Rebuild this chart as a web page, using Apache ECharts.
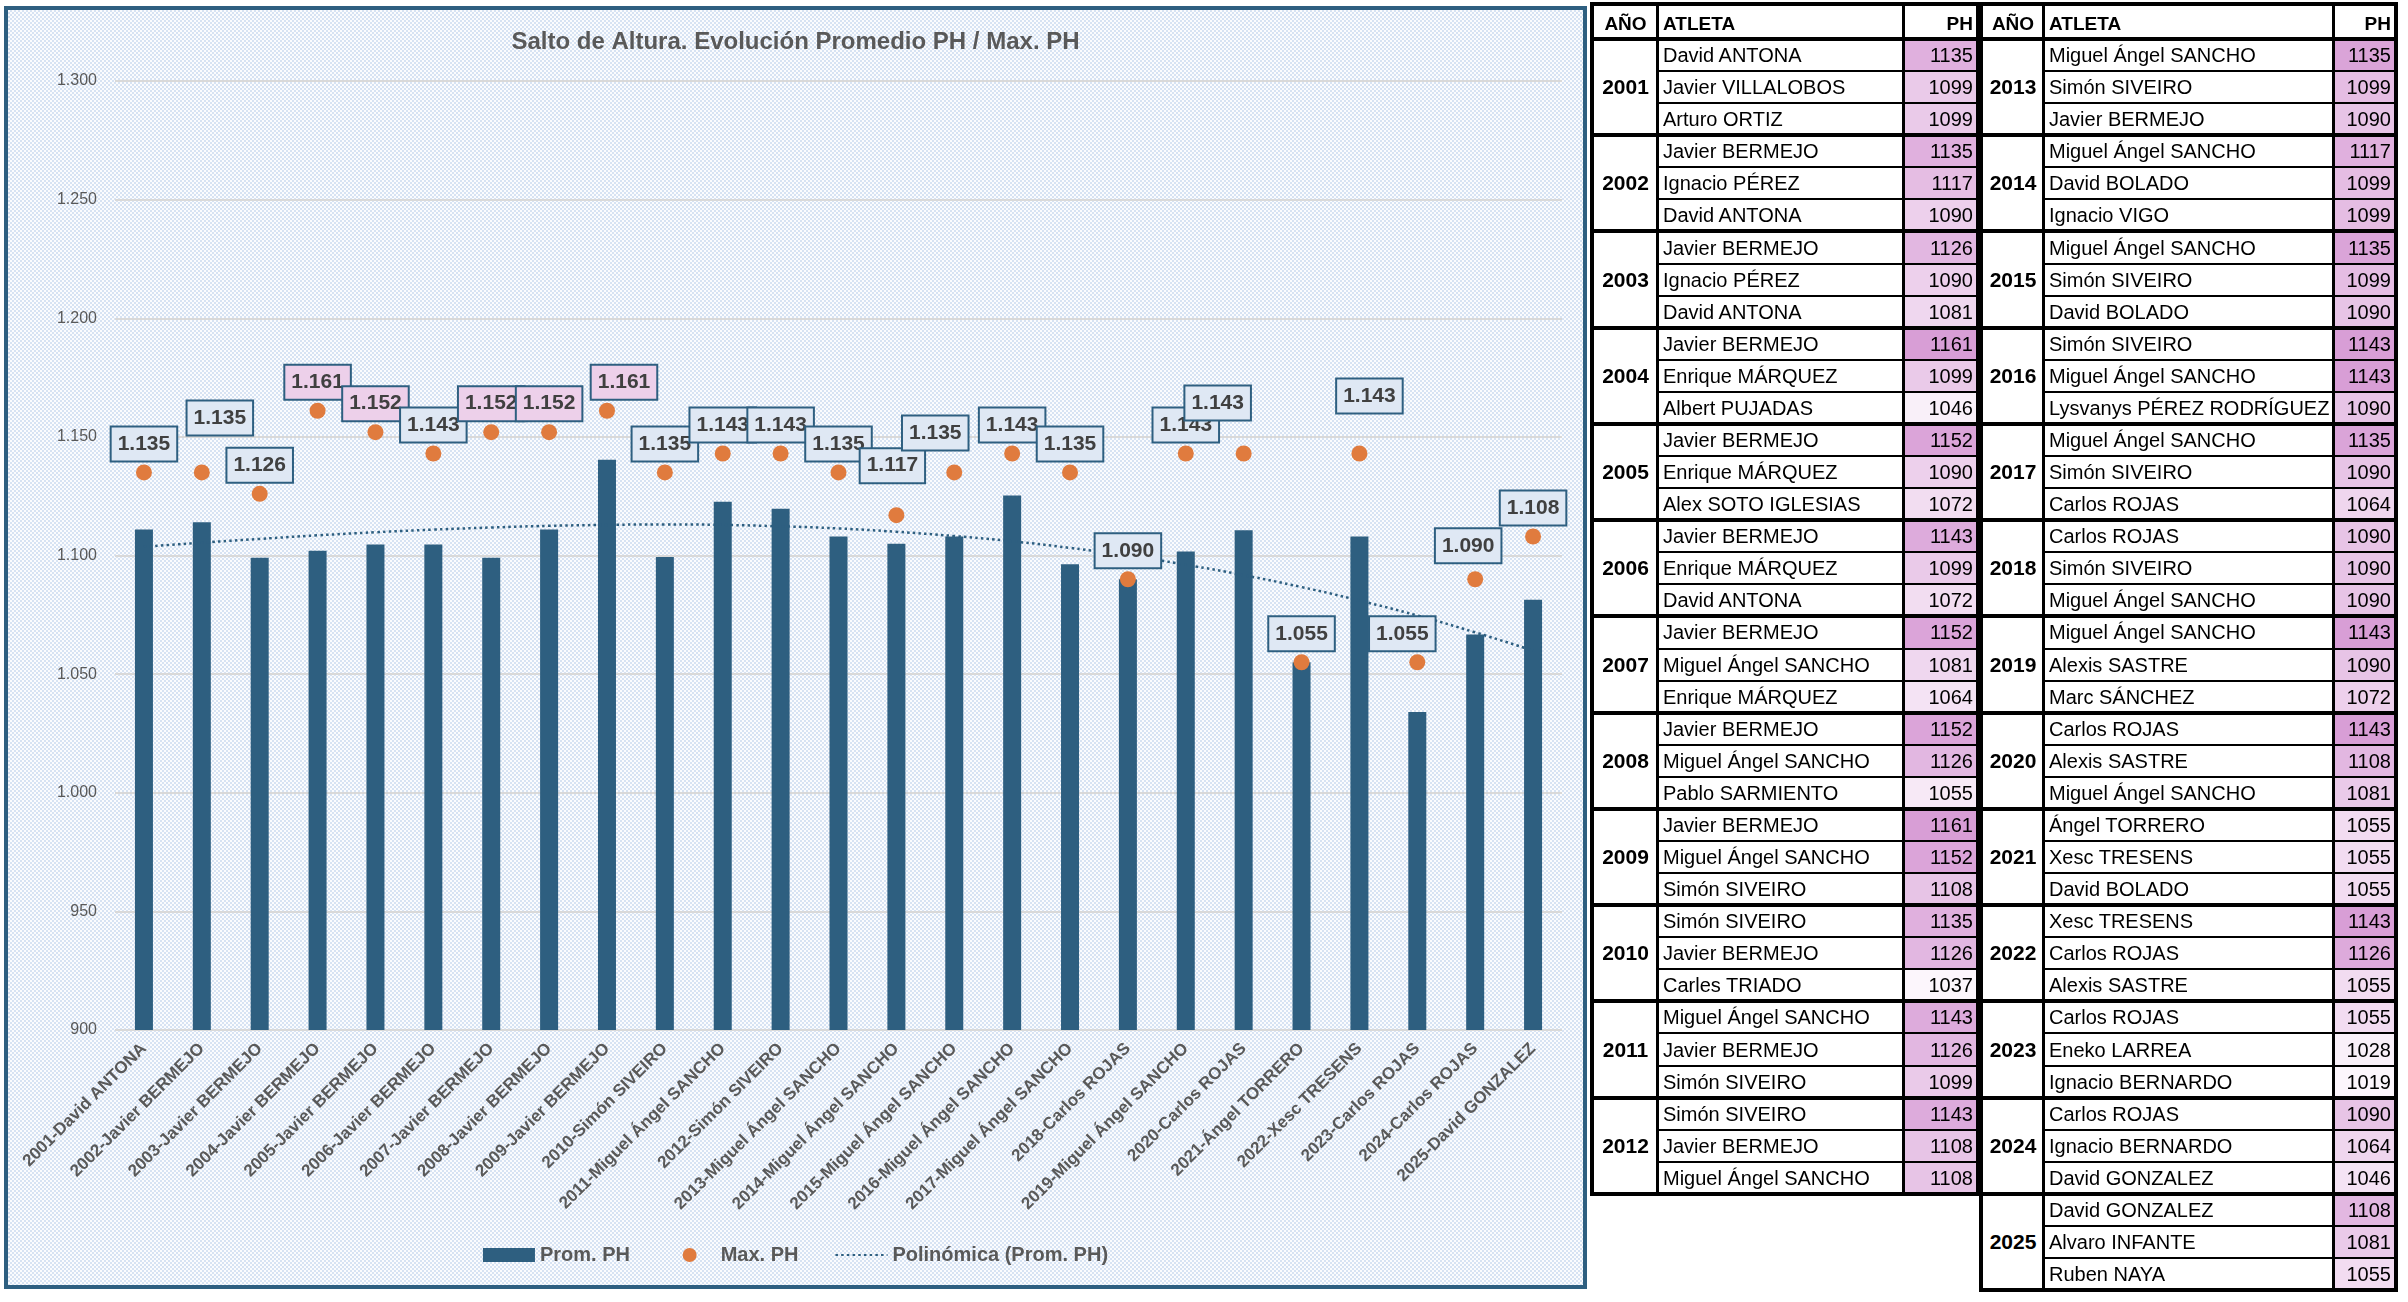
<!DOCTYPE html>
<html><head><meta charset="utf-8">
<script src="https://cdn.jsdelivr.net/npm/echarts@6/dist/echarts.min.js"></script>
<style>
html,body{margin:0;padding:0;background:#fff;}
body{width:2408px;height:1302px;position:relative;overflow:hidden;font-family:'Liberation Sans',Arial,sans-serif;}
#chart{position:absolute;left:4px;top:6px;width:1575px;height:1275px;border:4px solid #2e5f80;
background-color:#ecf1f9;
background-image:repeating-conic-gradient(#d7e3f3 0 25%, #fbfcfe 0 50%);
background-size:4px 4px;}
.t{position:absolute;white-space:nowrap;color:#000;}
.r{position:absolute;}
</style></head><body>
<div id="chart"></div>
<div id="tables"></div>
<script>
// ---------- DATA ----------
const years = [2001,2002,2003,2004,2005,2006,2007,2008,2009,2010,2011,2012,2013,2014,2015,2016,2017,2018,2019,2020,2021,2022,2023,2024,2025];
const categorias = ['2001-David ANTONA','2002-Javier BERMEJO','2003-Javier BERMEJO','2004-Javier BERMEJO','2005-Javier BERMEJO','2006-Javier BERMEJO','2007-Javier BERMEJO','2008-Javier BERMEJO','2009-Javier BERMEJO','2010-Simón SIVEIRO','2011-Miguel Ángel SANCHO','2012-Simón SIVEIRO','2013-Miguel Ángel SANCHO','2014-Miguel Ángel SANCHO','2015-Miguel Ángel SANCHO','2016-Miguel Ángel SANCHO','2017-Miguel Ángel SANCHO','2018-Carlos ROJAS','2019-Miguel Ángel SANCHO','2020-Carlos ROJAS','2021-Ángel TORRERO','2022-Xesc TRESENS','2023-Carlos ROJAS','2024-Carlos ROJAS','2025-David GONZALEZ'];
const promPH = [1111,1114,1099,1102,1104.67,1104.67,1099,1111,1140.33,1099.33,1122.67,1119.67,1108,1105,1108,1125.33,1096.33,1090,1101.67,1110.67,1055,1108,1034,1066.67,1081.33];
const maxPH = [1135,1135,1126,1161,1152,1143,1152,1152,1161,1135,1143,1143,1135,1117,1135,1143,1135,1090,1143,1143,1055,1143,1055,1090,1108];
const tendencia = [1103.7,1105.4,1107.0,1108.5,1109.8,1110.9,1111.8,1112.5,1112.9,1113.1,1112.9,1112.3,1111.4,1110.0,1108.2,1106.0,1103.2,1100.0,1096.1,1091.7,1086.7,1081.0,1074.7,1067.6,1059.9];
const yTicks = {min:900, max:1300, step:50};
const atletas = [
 ['David ANTONA','Javier VILLALOBOS','Arturo ORTIZ'],
 ['Javier BERMEJO','Ignacio PÉREZ','David ANTONA'],
 ['Javier BERMEJO','Ignacio PÉREZ','David ANTONA'],
 ['Javier BERMEJO','Enrique MÁRQUEZ','Albert PUJADAS'],
 ['Javier BERMEJO','Enrique MÁRQUEZ','Alex SOTO IGLESIAS'],
 ['Javier BERMEJO','Enrique MÁRQUEZ','David ANTONA'],
 ['Javier BERMEJO','Miguel Ángel SANCHO','Enrique MÁRQUEZ'],
 ['Javier BERMEJO','Miguel Ángel SANCHO','Pablo SARMIENTO'],
 ['Javier BERMEJO','Miguel Ángel SANCHO','Simón SIVEIRO'],
 ['Simón SIVEIRO','Javier BERMEJO','Carles TRIADO'],
 ['Miguel Ángel SANCHO','Javier BERMEJO','Simón SIVEIRO'],
 ['Simón SIVEIRO','Javier BERMEJO','Miguel Ángel SANCHO'],
 ['Miguel Ángel SANCHO','Simón SIVEIRO','Javier BERMEJO'],
 ['Miguel Ángel SANCHO','David BOLADO','Ignacio VIGO'],
 ['Miguel Ángel SANCHO','Simón SIVEIRO','David BOLADO'],
 ['Simón SIVEIRO','Miguel Ángel SANCHO','Lysvanys PÉREZ RODRÍGUEZ'],
 ['Miguel Ángel SANCHO','Simón SIVEIRO','Carlos ROJAS'],
 ['Carlos ROJAS','Simón SIVEIRO','Miguel Ángel SANCHO'],
 ['Miguel Ángel SANCHO','Alexis SASTRE','Marc SÁNCHEZ'],
 ['Carlos ROJAS','Alexis SASTRE','Miguel Ángel SANCHO'],
 ['Ángel TORRERO','Xesc TRESENS','David BOLADO'],
 ['Xesc TRESENS','Carlos ROJAS','Alexis SASTRE'],
 ['Carlos ROJAS','Eneko LARREA','Ignacio BERNARDO'],
 ['Carlos ROJAS','Ignacio BERNARDO','David GONZALEZ'],
 ['David GONZALEZ','Alvaro INFANTE','Ruben NAYA']
];
const phTabla = [
 [1135,1099,1099],[1135,1117,1090],[1126,1090,1081],[1161,1099,1046],[1152,1090,1072],
 [1143,1099,1072],[1152,1081,1064],[1152,1126,1055],[1161,1152,1108],[1135,1126,1037],
 [1143,1126,1099],[1143,1108,1108],[1135,1099,1090],[1117,1099,1099],[1135,1099,1090],
 [1143,1143,1090],[1135,1090,1064],[1090,1090,1090],[1143,1090,1072],[1143,1108,1081],
 [1055,1055,1055],[1143,1126,1055],[1055,1028,1019],[1090,1064,1046],[1108,1081,1055]
];

// ---------- STYLE ----------
const DARK = '#2e5f80', ORANGE = '#e07b3e', GRAY = '#595959';
const labelShift = {1:[18,-26], 8:[17,0], 13:[-4,-21], 14:[-19,-11], 19:[-26,-22], 21:[10,-29], 22:[-15,0], 23:[-7,-5]};

function fontAvailable(name){
  const c = document.createElement('canvas').getContext('2d');
  const s = 'Prom. PH Polinómica Max';
  c.font = 'bold 24px monospace'; const w1 = c.measureText(s).width;
  c.font = "bold 24px '" + name + "', monospace"; const w2 = c.measureText(s).width;
  return Math.abs(w1 - w2) > 0.5;
}
const narrow = fontAvailable('Liberation Sans Narrow');
const fmt = v => v >= 1000 ? (v/1000).toFixed(3) : String(v);

const chart = echarts.init(document.getElementById('chart'));
chart.setOption({
  animation: false,
  title: {text: 'Salto de Altura. Evolución Promedio PH / Max. PH', left: 'center', top: 15,
    textStyle: {fontFamily: 'Liberation Sans', fontWeight: 'bold', fontSize: 24, color: GRAY}},
  legend: {
    data: [
      {name: 'Prom. PH', icon: 'rect'},
      {name: 'Max. PH', icon: 'circle'},
      {name: 'Polinómica (Prom. PH)', itemStyle: {color: 'rgba(0,0,0,0)', borderWidth: 0, opacity: 0}}
    ],
    formatter: name => name === 'Prom. PH' ? name + '\u00a0\u00a0\u00a0' : name,
    left: 'center', top: 1230, itemWidth: 52, itemHeight: 14, itemGap: 36,
    textStyle: {fontFamily: narrow ? 'Liberation Sans Narrow' : 'Liberation Sans', fontWeight: 'bold', fontSize: narrow ? 24 : 20, color: GRAY}
  },
  grid: {left: 107, top: 71, width: 1447, height: 949, outerBoundsMode: 'none'},
  xAxis: {type: 'category', data: categorias, axisLine: {show: false}, axisTick: {show: false},
    axisLabel: {interval: 0, rotate: 45, margin: 16, color: GRAY, fontFamily: 'Liberation Sans', fontWeight: 'bold', fontSize: 17}},
  yAxis: {type: 'value', min: yTicks.min, max: yTicks.max, interval: yTicks.step,
    axisLine: {show: false}, axisTick: {show: false},
    splitLine: {lineStyle: {color: '#d9d9d9', width: 2}},
    axisLabel: {margin: 18, color: GRAY, fontSize: 16, fontFamily: 'Liberation Sans', formatter: fmt}},
  series: [
    {name: 'Prom. PH', type: 'bar', data: promPH, barWidth: 18, itemStyle: {color: DARK}, z: 2},
    {name: 'Polinómica (Prom. PH)', type: 'line', data: tendencia, smooth: true, symbol: 'none',
      lineStyle: {color: DARK, width: 2.5, type: [2.5, 3.2]}, itemStyle: {color: DARK}, z: 3},
    {name: 'Max. PH', type: 'scatter', symbolSize: 16, itemStyle: {color: ORANGE, opacity: 1}, z: 4,
      data: maxPH.map((v, i) => ({value: v, label: {
        backgroundColor: v >= 1150 ? '#edd0ea' : '#dfe8f4',
        offset: labelShift[i] || [0, 0]}})),
      label: {show: true, position: 'top', distance: 4, color: '#404040', fontFamily: 'Liberation Sans',
        fontWeight: 'bold', fontSize: 21, lineHeight: 21, padding: [6, 6, 6, 6],
        borderColor: DARK, borderWidth: 2, formatter: p => fmt(p.value)}}
  ]
});

// ---------- TABLES ----------
const root = document.getElementById('tables');
function rect(x, y, w, h, c){ const d = document.createElement('div'); d.className = 'r';
  d.style.cssText += `left:${x}px;top:${y}px;width:${w}px;height:${h}px;background:${c};`; root.appendChild(d); }
function txt(x, cy, s, o){ const d = document.createElement('div'); d.className = 't'; d.textContent = s;
  const fs = o.fs || 20; d.style.fontSize = fs + 'px'; d.style.fontWeight = o.bold ? 'bold' : 'normal';
  d.style.top = (cy - 16) + 'px'; d.style.height = '32px'; d.style.lineHeight = '32px';
  if (o.align === 'right') { d.style.right = (2408 - x) + 'px'; }
  else if (o.align === 'center') { d.style.left = (x - 100) + 'px'; d.style.width = '200px'; d.style.textAlign = 'center'; }
  else d.style.left = x + 'px';
  root.appendChild(d); }
const TAB_TOP = 2, HEAD_BOTTOM = 39, ROW_H = 32.08;
function drawTable(L, widths, from, to){
  const cA = L + 4, cN = cA + widths[0], cP = cN + widths[1], cR = cP + widths[2];
  const W = cR + 4 - L;
  const nRows = (to - from) * 3;
  const bottom = HEAD_BOTTOM + nRows * ROW_H;
  rect(L, TAB_TOP, W, bottom + 2 - TAB_TOP, '#fff');
  const vals = phTabla.slice(from, to).flat();
  const mn = Math.min(...vals), mx = Math.max(...vals);
  const col = v => { const t = (v - mn) / (mx - mn);
    return `rgb(${Math.round(252 - t*36)},${Math.round(246 - t*88)},${Math.round(252 - t*38)})`; };
  for (let g = 0; g < to - from; g++) {
    for (let k = 0; k < 3; k++) {
      const r = g*3 + k, y = HEAD_BOTTOM + r*ROW_H;
      rect(cP, y, cR - cP, ROW_H, col(phTabla[from+g][k]));
    }
  }
  rect(L, TAB_TOP, W, 4, '#000');
  rect(L, HEAD_BOTTOM - 2, W, 4, '#000');
  for (let r = 1; r < nRows; r++) {
    const y = HEAD_BOTTOM + r*ROW_H;
    if (r % 3 === 0) rect(L, y - 2, W, 4, '#000'); else rect(cN, y - 1, cR - cN, 2, '#000');
  }
  rect(L, bottom - 2, W, 4, '#000');
  rect(L, TAB_TOP, 4, bottom + 2 - TAB_TOP, '#000');
  rect(cN - 1.5, TAB_TOP, 3, bottom - TAB_TOP, '#000');
  rect(cP - 1.5, TAB_TOP, 3, bottom - TAB_TOP, '#000');
  rect(cR, TAB_TOP, 4, bottom + 2 - TAB_TOP, '#000');
  const hc = 24;
  txt((cA + cN) / 2, hc, 'AÑO', {bold: true, fs: 19, align: 'center'});
  txt(cN + 6, hc, 'ATLETA', {bold: true, fs: 19});
  txt(cR - 3, hc, 'PH', {bold: true, fs: 19, align: 'right'});
  for (let g = 0; g < to - from; g++) {
    const i = from + g;
    txt((cA + cN) / 2, HEAD_BOTTOM + (g*3 + 1.5) * ROW_H, String(years[i]), {bold: true, fs: 21, align: 'center'});
    for (let k = 0; k < 3; k++) {
      const cy = HEAD_BOTTOM + (g*3 + k + 0.5) * ROW_H;
      txt(cN + 6, cy, atletas[i][k], {fs: 20});
      txt(cR - 3, cy, String(phTabla[i][k]), {fs: 20, align: 'right'});
    }
  }
}
drawTable(1590, [63, 246, 73], 0, 12);
drawTable(1979, [60, 290, 61], 12, 25);
</script>
</body></html>
